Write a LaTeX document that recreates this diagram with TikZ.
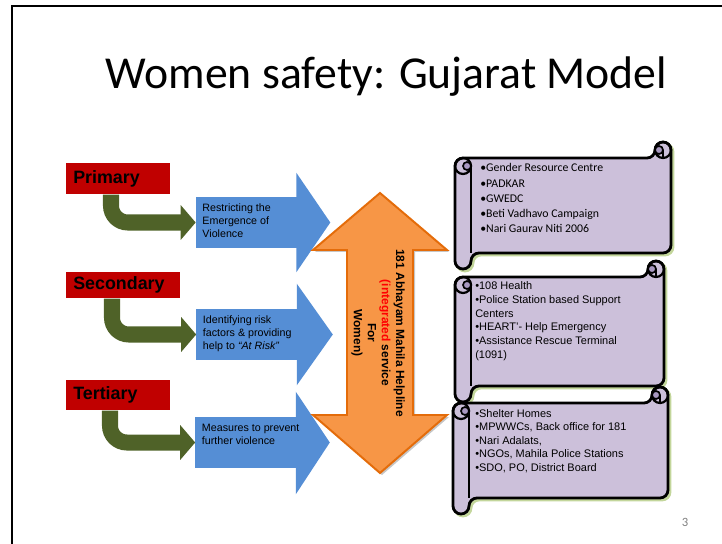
\documentclass[tikz,border=0pt]{standalone}
\usepackage{fontspec}
\setmainfont{Liberation Sans}
\newfontfamily\calibri{Carlito}
\usetikzlibrary{arrows.meta,calc}

\definecolor{rojo}{HTML}{C00000}
\definecolor{verde}{HTML}{4F6228}
\definecolor{azul}{HTML}{558ED5}
\definecolor{naranja}{HTML}{F79646}
\definecolor{naranjaoscuro}{HTML}{E46C0A}
\definecolor{lila}{HTML}{CCC0DA}
\definecolor{lilaoscuro}{HTML}{A898C0}
\definecolor{sombra}{HTML}{C3D69B}

\tikzset{
  cajaroja/.style={fill=rojo, anchor=north west, inner xsep=0.175cm, inner ysep=0pt, align=left, font=\bfseries\fontsize{12.7}{14}\selectfont},
  cuerpoazul/.style={fill=azul, minimum width=2.525cm, minimum height=1.275cm, inner sep=0pt},
  textoazul/.style={anchor=north west, inner sep=0pt, align=left, font=\fontsize{7.6}{9.2}\selectfont},
  flechaverde/.style={draw=verde, line width=0.4cm, rounded corners=0.42cm, -{Triangle[width=0.85cm,length=0.375cm]}},
  textorollo/.style={anchor=north west, inner sep=0pt, align=left},
}

% pergamino: izquierda, arriba, derecha, abajo
\newcommand{\contorno}[4]{({#1},{#4-16}) -- ({#1},{#2+16}) -- ({#3-16},{#2+16}) -- ({#3-16},{#2}) -- ({#3},{#2}) -- ({#3},{#4-16}) -- ({#1+16},{#4-16}) -- ({#1+16},{#4}) -- ({#1},{#4}) -- cycle}
\newcommand{\rollo}[4]{%
  \draw[sombra, line width=2pt, rounded corners=0.2cm, shift={(2,2)}] \contorno{#1}{#2}{#3}{#4};
  \filldraw[fill=lila, draw=black, line width=2pt, rounded corners=0.2cm] \contorno{#1}{#2}{#3}{#4};
  \draw[line width=1.6pt] ({#1+16},{#2+24}) -- ({#1+16},{#4-16});
  \draw[line width=1.6pt] ({#1+8},{#2+24}) circle (8);
  \filldraw[fill=lilaoscuro, line width=1.2pt] ({#1+12},{#2+24}) circle (4);
  \draw[line width=1.6pt] ({#3-8},{#2+8}) circle (8);
  \filldraw[fill=lilaoscuro, line width=1.2pt] ({#3-12},{#2+8}) circle (4);
  \draw[line width=1.6pt] ({#3-8},{#2+8}) -- ({#3-8},{#2+16});
}

\begin{document}
\begin{tikzpicture}[x=0.025cm, y=-0.025cm]
    \useasboundingbox (0,0) rectangle (722,544);
    % Marco y título
    \draw[line width=0.05cm] (12,544) -- (12,6) -- (722,6);
    \node[anchor=base, font=\calibri\fontsize{32.5}{40}\selectfont] (titulo) at (386.5,89) {Women safety: Gujarat Model};
    \node[font=\calibri\fontsize{9}{10}\selectfont, text=gray] (pagina) at (685,522) {3};

    % Flechas azules
    \node[cuerpoazul] (b1) at (246.5,222.5) {};
    \node[cuerpoazul] (b2) at (247,334.5) {};
    \node[cuerpoazul] (b3) at (246,442.5) {};
    \fill[azul] ($(b1.north east)+(-1,-24)$) -- ($(b1.east)+(33,0)$) -- ($(b1.south east)+(-1,24)$) -- cycle;
    \fill[azul] ($(b2.north east)+(-1,-25)$) -- ($(b2.east)+(35,0)$) -- ($(b2.south east)+(-1,25)$) -- cycle;
    \fill[azul] ($(b3.north east)+(-1,-25)$) -- ($(b3.east)+(33,0)$) -- ($(b3.south east)+(-1,26)$) -- cycle;
    \node[textoazul] (t1) at ($(b1.north west)+(6.5,7)$) {Restricting the\\Emergence of\\Violence};
    \node[textoazul] (t2) at ($(b2.north west)+(6.5,7)$) {Identifying risk\\factors \& providing\\help to \textit{“At Risk”}};
    \node[textoazul] (t3) at ($(b3.north west)+(6.5,7)$) {Measures to prevent\\further violence};

    % Cajas rojas y flechas verdes
    \node[cajaroja, text width=2.25cm, minimum height=0.775cm] (prim) at (66,163) {Primary};
    \node[cajaroja, text width=2.5cm, minimum height=0.65cm] (sec) at (66,272) {Secondary};
    \node[cajaroja, text width=2.25cm, minimum height=0.75cm] (ter) at (66,380) {Tertiary};
    \draw[flechaverde] ($(prim.south west)+(45,0)$) |- (b1.west);
    \draw[flechaverde] ($(sec.south west)+(46,0)$) |- (b2.west);
    \draw[flechaverde] ($(ter.south west)+(44,0)$) |- (b3.west);

    % Flecha doble naranja
    \fill[gray!45, shift={(2,2)}] (380,193) -- (447,250) -- (413,250) -- (413,415) -- (447,415) -- (380,473) -- (313,415) -- (347,415) -- (347,250) -- (313,250) -- cycle;
    \filldraw[fill=naranja, draw=naranjaoscuro, line width=1.4pt] (380,193) -- (447,250) -- (413,250) -- (413,415) -- (447,415) -- (380,473) -- (313,415) -- (347,415) -- (347,250) -- (313,250) -- cycle;
    \node[rotate=-90, align=center, font=\bfseries\fontsize{8.5}{10}\selectfont] (linea181) at (378,333) {181 Abhayam Mahila Helpline\\{\color{red}(integrated} service\\For\\Women)};

    % Pergaminos
    \rollo{455}{142}{671}{269}
    \rollo{455}{261}{664}{402}
    \rollo{453}{387}{668}{514}
    \node[textorollo, font=\calibri\fontsize{8.4}{10.7}\selectfont] (s1) at (480,163.5) {•Gender Resource Centre\\•PADKAR\\•GWEDC\\•Beti Vadhavo Campaign\\•Nari Gaurav Niti 2006};
    \node[textorollo, font=\fontsize{7.8}{9.9}\selectfont] (s2) at (475,281) {•108 Health\\•Police Station based Support\\Centers\\•HEART'- Help Emergency\\•Assistance Rescue Terminal\\(1091)};
    \node[textorollo, font=\fontsize{7.8}{9.6}\selectfont] (s3) at (475,409) {•Shelter Homes\\•MPWWCs, Back office for 181\\•Nari Adalats,\\•NGOs, Mahila Police Stations\\•SDO, PO, District Board};
\end{tikzpicture}
\end{document}
